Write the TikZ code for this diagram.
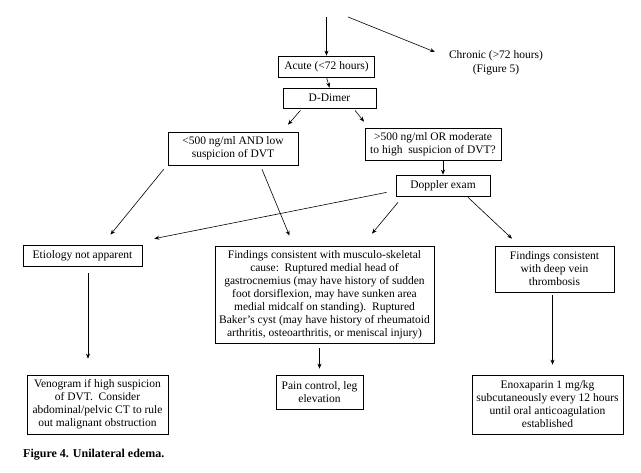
\documentclass[tikz,border=0pt]{standalone}
\usepackage{fontspec}
\setmainfont{Liberation Serif}
\usetikzlibrary{arrows.meta,calc}
\tikzset{
  box/.style={draw=black,line width=0.7pt,align=center,inner sep=0pt,font=\fontsize{11.5}{13}\selectfont},
  arr/.style={line width=0.6pt,-{Stealth[length=5pt,width=4pt]}},
  plain/.style={align=center,inner sep=0pt,font=\fontsize{11.5}{14}\selectfont}
}
\begin{document}
\begin{tikzpicture}[x=1pt,y=-1pt]
\useasboundingbox (0,0) rectangle (641,473);
\node[box,minimum width=96pt,minimum height=21pt] (acute) at (326.5,66.5) {Acute (<72 hours)};
\node[box,minimum width=93pt,minimum height=20pt] (dd) at (329.5,98) {D-Dimer};
\node[box,minimum width=130pt,minimum height=33pt] (lt) at (233,148.5) {<500 ng/ml AND low\\suspicion of DVT};
\node[box,minimum width=136pt,minimum height=32pt] (rt) at (433,144) {>500 ng/ml OR moderate\\to high\ \ suspicion of DVT?};
\node[box,minimum width=94pt,minimum height=21pt] (dop) at (443,185.5) {Doppler exam};
\node[box,minimum width=119pt,minimum height=21pt] (eti) at (82.5,255.5) {Etiology not apparent};
\node[box,minimum width=219pt,minimum height=97pt] (mus) at (324.5,294.5) {Findings consistent with musculo-skeletal\\cause:\ \ Ruptured medial head of\\gastrocnemius (may have history of sudden\\foot dorsiflexion, may have sunken area\\medial midcalf on standing).\ \ Ruptured\\Baker’s cyst (may have history of rheumatoid\\arthritis, osteoarthritis, or meniscal injury)};
\node[box,minimum width=119pt,minimum height=46pt] (dvt) at (554.5,269) {Findings consistent\\with deep vein\\thrombosis};
\node[box,minimum width=141pt,minimum height=59pt] (veno) at (97.5,404.5) {Venogram if high suspicion\\of DVT.\ \ Consider\\abdominal/pelvic CT to rule\\out malignant obstruction};
\node[box,minimum width=87pt,minimum height=34pt] (pain) at (319.5,392) {Pain control, leg\\elevation};
\node[box,minimum width=151pt,minimum height=59pt] (enox) at (547.5,404.5) {Enoxaparin 1 mg/kg\\subcutaneously every 12 hours\\until oral anticoagulation\\established};
\node[plain] (chronic) at (496,63) {Chronic (>72 hours)\\(Figure 5)};
\node[anchor=west,inner sep=0pt,font=\fontsize{12}{14}\bfseries\selectfont] (cap) at (23,455) {Figure 4. Unilateral edema.};
\coordinate (top) at (326.5,17);
\coordinate (ctop) at (348,17);
\coordinate (cend) at (435,52);
\draw[arr] (top) -- (acute.north);
\draw[arr] (ctop) -- (cend);
\draw[arr] (acute.south) -- (dd.north);
\draw[arr] ($(dd.south)+(-29,2)$) -- ($(lt.north)+(55,-7)$);
\draw[arr] ($(dd.south)+(25.5,2)$) -- ($(rt.north)+(-69,-6)$);
\draw[arr] (rt.south -| dop.north) -- (dop.north);
\draw[arr] ($(lt.south west)+(-4,4)$) -- ($(eti.north)+(28,-10)$);
\draw[arr] ($(lt.south)+(29,4)$) -- ($(mus.north)+(-35,-10)$);
\draw[arr] ($(dop.south west)+(-9,-4)$) -- ($(eti.north east)+(12,-6)$);
\draw[arr] ($(dop.south)+(-45,6)$) -- ($(mus.north)+(47.5,-12)$);
\draw[arr] ($(dop.south)+(25,1)$) -- ($(dvt.north)+(-42.5,-7)$);
\draw[arr] ($(eti.south)+(5.5,7)$) -- ($(veno.north)+(-9.5,-16)$);
\draw[arr] ($(mus.south)+(-5,5)$) -- ($(pain.north)+(0,-6)$);
\draw[arr] ($(dvt.south)+(-2,3)$) -- ($(enox.north)+(5,-10)$);
\end{tikzpicture}
\end{document}
